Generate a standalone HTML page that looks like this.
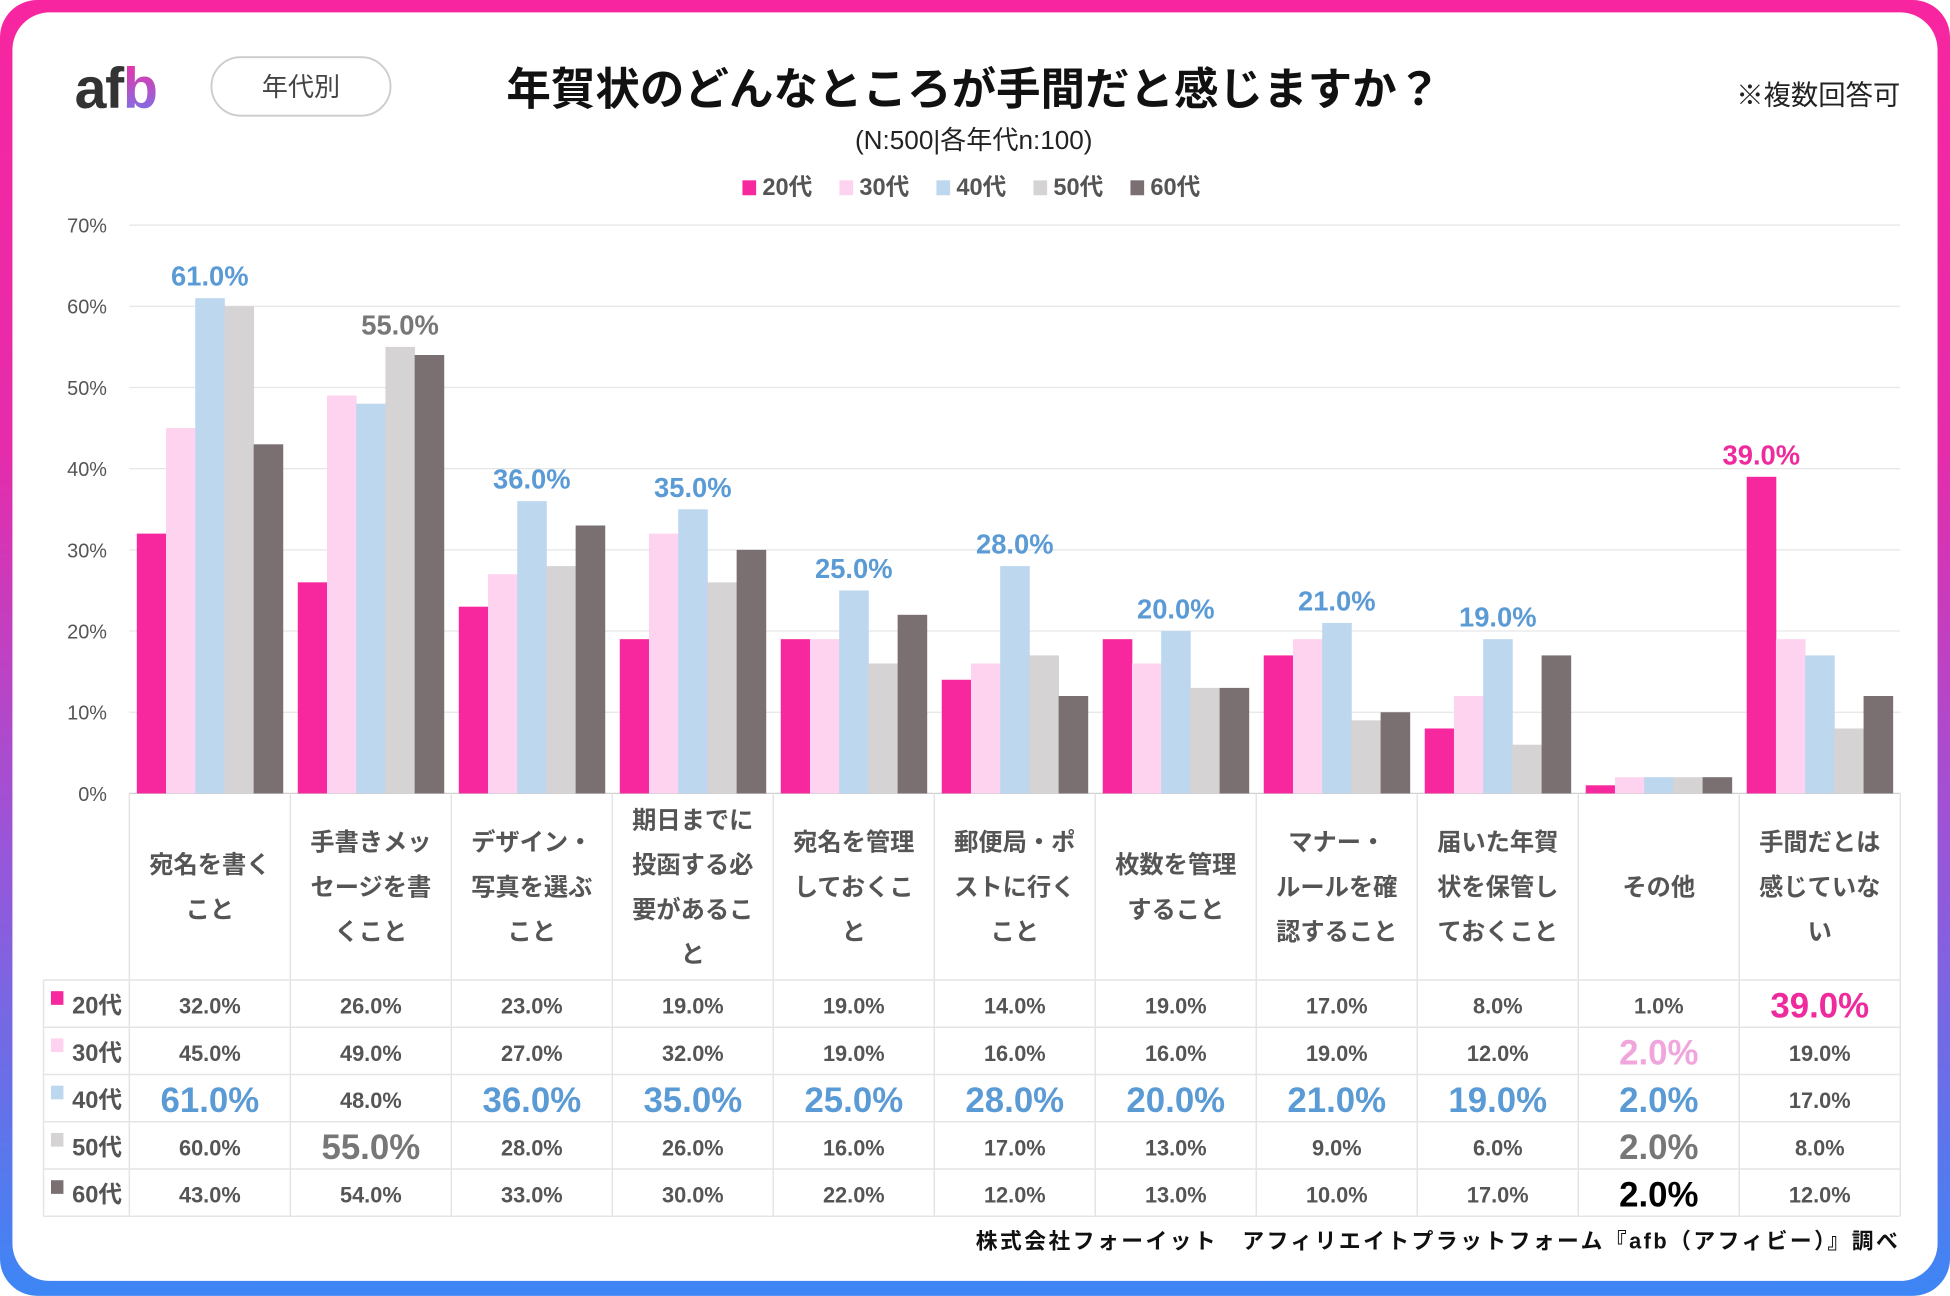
<!DOCTYPE html>
<html><head><meta charset="utf-8">
<style>
html,body{margin:0;padding:0;width:1950px;height:1295px;overflow:hidden;background:#fff}
#frame{position:absolute;left:0;top:0;width:1568px;height:1042px;transform:scale(1.24362);transform-origin:0 0;
background:linear-gradient(180deg,#f825a0 0%,#e52cab 35%,#9a55d8 65%,#3d86f5 100%);border-radius:30px}
#inner{position:absolute;left:10px;top:10px;width:1548px;height:1020px;background:#fff;border-radius:30px}
svg text{font-family:"Liberation Sans","Noto Sans CJK JP",sans-serif}
</style></head>
<body>
<div id="frame"><div id="inner"></div>
<svg id="chart" width="1568" height="1042" style="position:absolute;left:0;top:0">
<defs><linearGradient id="bg" x1="0" y1="0" x2="0" y2="1"><stop offset="0" stop-color="#f72aa0"/><stop offset="1" stop-color="#6a7cf0"/></linearGradient></defs>
<text x="60" y="87" font-size="46" font-weight="bold" fill="#333" letter-spacing="-1">af<tspan fill="url(#bg)">b</tspan></text>
<rect x="170" y="46" width="144" height="47" rx="23.5" fill="#fff" stroke="#ccc" stroke-width="1.5"/>
<text x="242" y="77" font-size="21" fill="#444" text-anchor="middle">年代別</text>
<text x="783" y="84" font-size="35.8" font-weight="bold" fill="#111" text-anchor="middle">年賀状のどんなところが手間だと感じますか？</text>
<text x="1528" y="84" font-size="22" fill="#222" text-anchor="end">※複数回答可</text>
<text x="783" y="120" font-size="21" fill="#222" text-anchor="middle">(N:500|各年代n:100)</text>
<g id="legend"></g>
<g id="grid"></g><g id="bars"></g><g id="table"></g>
<text x="1528" y="1004" font-size="17.5" font-weight="bold" fill="#111" text-anchor="end" letter-spacing="2">株式会社フォーイット　アフィリエイトプラットフォーム『afb（アフィビー）』調べ</text>
</svg>
</div>
<script>
const categories=[["宛名を書く","こと"],["手書きメッ","セージを書","くこと"],["デザイン・","写真を選ぶ","こと"],["期日までに","投函する必","要があるこ","と"],["宛名を管理","しておくこ","と"],["郵便局・ポ","ストに行く","こと"],["枚数を管理","すること"],["マナー・","ルールを確","認すること"],["届いた年賀","状を保管し","ておくこと"],["その他"],["手間だとは","感じていな","い"]];
const seriesNames=["20代","30代","40代","50代","60代"];
const v20=[32,26,23,19,19,14,19,17,8,1,39];
const v30=[45,49,27,32,19,16,16,19,12,2,19];
const v40=[61,48,36,35,25,28,20,21,19,2,17];
const v50=[60,55,28,26,16,17,13,9,6,2,8];
const v60=[43,54,33,30,22,12,13,10,17,2,12];
const yTicks=[0,10,20,30,40,50,60,70];
const series=[v20,v30,v40,v50,v60];
const colors=["#f7289d","#fdd3ef","#bdd7ee","#d6d3d4","#7a7072"];
const hiColors=["#ee2a9c","#f0a6dc","#5b9bd5","#777","#000"];
const NS="http://www.w3.org/2000/svg";
function mk(p,t,a,txt){const e=document.createElementNS(NS,t);for(const k in a)e.setAttribute(k,a[k]);if(txt!=null)e.textContent=txt;p.appendChild(e);return e;}
const X0=104,X1=1528,Y0=638,Y70=181;
const colW=(X1-X0)/categories.length;
const y=v=>Y0-(v/70)*(Y0-Y70);
const bw=(colW-12)/5;
const bx=(c,s)=>X0+c*colW+6+s*bw;
const lg=document.getElementById('legend');
seriesNames.forEach((n,i)=>{const lx=597+i*78;
 const r=mk(lg,'rect',{x:lx,y:145,width:11,height:12,fill:colors[i]});
 
 const t=mk(lg,'text',{x:lx+16,y:157,'font-size':19,'font-weight':'bold',fill:'#555'},n);
 });
const g=document.getElementById('grid');
yTicks.forEach(t=>{const l=mk(g,'line',{x1:X0,x2:X1,y1:y(t),y2:y(t),stroke:t===0?'#d0d0d0':'#e6e6e6','stroke-width':1});
 
 const tx=mk(g,'text',{x:86,y:y(t)+6,'font-size':16,fill:'#555','text-anchor':'end'},t+'%');
 });
const b=document.getElementById('bars');
categories.forEach((c,ci)=>{
 let mx=-1,ms=0,cnt=0;series.forEach((s,si)=>{if(s[ci]>mx){mx=s[ci];ms=si;}});
 series.forEach(s=>{if(s[ci]===mx)cnt++;});
 series.forEach((s,si)=>{const r=mk(b,'rect',{x:bx(ci,si),y:y(s[ci]),width:bw+0.3,height:Y0-y(s[ci]),fill:colors[si]});
  });
 if(cnt===1){const t=mk(b,'text',{x:bx(ci,ms)+bw/2,y:y(mx)-10,'font-size':22,'font-weight':'bold',fill:hiColors[ms],'text-anchor':'middle'},mx.toFixed(1)+'%');
  }
});
const tb=document.getElementById('table');
const rowY=[788,826,864,902,940,978];
const ln=(x1,y1,x2,y2)=>{const l=mk(tb,'line',{x1,y1,x2,y2,stroke:'#e4e4e4','stroke-width':1.2});};
for(let i=0;i<=categories.length;i++)ln(X0+i*colW,Y0,X0+i*colW,978);
rowY.forEach(ry=>ln(35,ry,X1,ry));ln(35,788,35,978);
categories.forEach((c,ci)=>{const cx=X0+ci*colW+colW/2;const top=713-(c.length-1)*18;
 c.forEach((line,li)=>{const t=mk(tb,'text',{x:cx,y:top+li*36+7,'font-size':19.5,'font-weight':'bold',fill:'#555','text-anchor':'middle'},line);
  });
 const mx=Math.max(...series.map(s=>s[ci]));
 series.forEach((s,si)=>{const hi=s[ci]===mx;const a={x:cx,y:rowY[si]+27+(hi?3:0),'font-size':hi?28:17.5,'font-weight':'bold',fill:hi?hiColors[si]:'#555','text-anchor':'middle'};
  const t=mk(tb,'text',a,s[ci].toFixed(1)+'%');});
});
seriesNames.forEach((n,si)=>{const r=mk(tb,'rect',{x:41,y:rowY[si]+9,width:10,height:11,fill:colors[si]});
 const t=mk(tb,'text',{x:58,y:rowY[si]+27,'font-size':19,'font-weight':'bold',fill:'#555'},n);});
</script>
</body></html>
